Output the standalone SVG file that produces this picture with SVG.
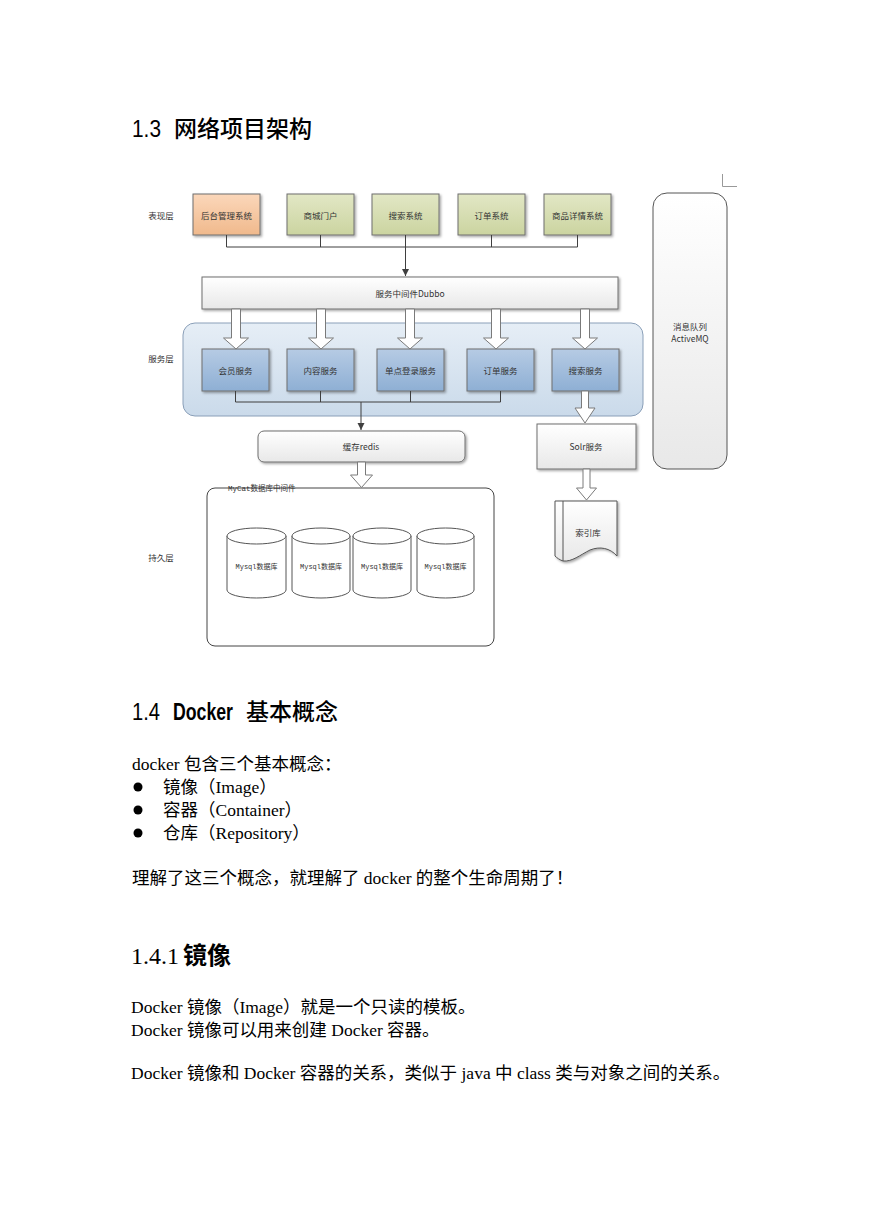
<svg xmlns="http://www.w3.org/2000/svg" width="869" height="1228" viewBox="0 0 869 1228">
<defs>
  <linearGradient id="gPeach" x1="0" y1="0" x2="0" y2="1"><stop offset="0" stop-color="#fbd7ba"/><stop offset="1" stop-color="#f0b98c"/></linearGradient>
  <linearGradient id="gGreen" x1="0" y1="0" x2="0" y2="1"><stop offset="0" stop-color="#e2e7c5"/><stop offset="1" stop-color="#cbd4a0"/></linearGradient>
  <linearGradient id="gBlue" x1="0" y1="0" x2="0" y2="1"><stop offset="0" stop-color="#b6cbe4"/><stop offset="1" stop-color="#8eafd4"/></linearGradient>
  <linearGradient id="gLayer" x1="0" y1="0" x2="0" y2="1"><stop offset="0" stop-color="#e6eef6"/><stop offset="1" stop-color="#cadaea"/></linearGradient>
  <linearGradient id="gWhite" x1="0" y1="0" x2="0" y2="1"><stop offset="0" stop-color="#ffffff"/><stop offset="1" stop-color="#e8e8e8"/></linearGradient>
  <filter id="sh" x="-10%" y="-10%" width="130%" height="140%"><feDropShadow dx="1.5" dy="1.5" stdDeviation="0.8" flood-color="#000" flood-opacity="0.35"/></filter>
  <marker id="arr" markerWidth="8" markerHeight="8" refX="7" refY="4" orient="auto" markerUnits="userSpaceOnUse"><path d="M0,0.5 L7,4 L0,7.5 Z" fill="#3f3f3f"/></marker>
  <path id="bigArrow" d="M-4.5,0 H4.5 V29 H12.5 L0,40 L-12.5,29 H-4.5 Z"/>
</defs>
<style>
  .lbl{font-family:"Noto Sans CJK SC",sans-serif;font-size:8.5px;fill:#333;text-anchor:middle;dominant-baseline:central}
  .box{stroke:#6f6f6f;stroke-width:1}
  .conn{fill:none;stroke:#3f3f3f;stroke-width:1}
  .hollow{fill:#fff;stroke:#7a7a7a;stroke-width:1}
  .body{font-family:"Liberation Serif","Noto Sans CJK SC",serif;font-size:17.5px;fill:#000}
  .h2cjk{font-family:"Noto Sans CJK SC",sans-serif;font-size:23px;font-weight:500;fill:#000}
  .h2num{font-family:"Liberation Sans",sans-serif;font-size:23px;fill:#000}
  .db{font-family:"Liberation Mono","Noto Sans CJK SC",monospace;font-size:7px;fill:#333;text-anchor:middle;dominant-baseline:central}
</style>

<!-- headings -->
<g id="heading13">
  <text class="h2num" x="132" y="137" textLength="29" lengthAdjust="spacingAndGlyphs">1.3</text>
  <text class="h2cjk" x="174" y="137">网络项目架构</text>
</g>
<path d="M722.5,174 V186.5 H737" fill="none" stroke="#999" stroke-width="1"/>

<!-- layer labels -->
<g id="layerLabels">
  <text class="lbl" x="161" y="215">表现层</text>
  <text class="lbl" x="161" y="358">服务层</text>
  <text class="lbl" x="161" y="557">持久层</text>
</g>

<!-- presentation layer -->
<g id="n-houtai"><rect class="box" x="193" y="194" width="67" height="41" fill="url(#gPeach)" filter="url(#sh)"/><text class="lbl" x="226.5" y="215">后台管理系统</text></g>
<g id="n-shangcheng"><rect class="box" x="287" y="194" width="67" height="41" fill="url(#gGreen)" filter="url(#sh)"/><text class="lbl" x="320.5" y="215">商城门户</text></g>
<g id="n-sousuo"><rect class="box" x="372" y="194" width="67" height="41" fill="url(#gGreen)" filter="url(#sh)"/><text class="lbl" x="405.5" y="215">搜索系统</text></g>
<g id="n-dingdan"><rect class="box" x="458" y="194" width="67" height="41" fill="url(#gGreen)" filter="url(#sh)"/><text class="lbl" x="491.5" y="215">订单系统</text></g>
<g id="n-xiangqing"><rect class="box" x="544" y="194" width="67" height="41" fill="url(#gGreen)" filter="url(#sh)"/><text class="lbl" x="577.5" y="215">商品详情系统</text></g>

<!-- dubbo -->
<g id="n-dubbo"><rect class="box" x="202" y="277" width="416" height="32" fill="url(#gWhite)" filter="url(#sh)"/><text class="lbl" x="410" y="293">服务中间件Dubbo</text></g>

<!-- message queue -->
<g id="n-mq"><rect x="653" y="193" width="74" height="276" rx="14" fill="url(#gWhite)" stroke="#555" stroke-width="1"/>
  <text class="lbl" x="690" y="326">消息队列</text><text class="lbl" x="690" y="338">ActiveMQ</text></g>

<!-- service layer -->
<g id="n-servicelayer"><rect x="183" y="323" width="460" height="93" rx="12" fill="url(#gLayer)" stroke="#8a9fb8" stroke-width="1"/></g>
<g id="n-huiyuan"><rect class="box" x="202" y="349" width="67" height="42" fill="url(#gBlue)" filter="url(#sh)"/><text class="lbl" x="235.5" y="370">会员服务</text></g>
<g id="n-neirong"><rect class="box" x="287" y="349" width="67" height="42" fill="url(#gBlue)" filter="url(#sh)"/><text class="lbl" x="320.5" y="370">内容服务</text></g>
<g id="n-sso"><rect class="box" x="377" y="349" width="67" height="42" fill="url(#gBlue)" filter="url(#sh)"/><text class="lbl" x="410.5" y="370">单点登录服务</text></g>
<g id="n-order"><rect class="box" x="467" y="349" width="67" height="42" fill="url(#gBlue)" filter="url(#sh)"/><text class="lbl" x="500.5" y="370">订单服务</text></g>
<g id="n-search"><rect class="box" x="552" y="349" width="67" height="42" fill="url(#gBlue)" filter="url(#sh)"/><text class="lbl" x="585.5" y="370">搜索服务</text></g>

<!-- redis -->
<g id="n-redis"><rect class="box" x="258" y="431" width="207" height="31" rx="6" fill="url(#gWhite)" filter="url(#sh)"/><text class="lbl" x="361" y="446">缓存redis</text></g>

<!-- solr -->
<g id="n-solr"><rect class="box" x="537" y="424" width="99" height="45" fill="url(#gWhite)" filter="url(#sh)"/><text class="lbl" x="586" y="446">Solr服务</text></g>

<!-- index doc -->
<g id="n-index">
  <path d="M555,501 H617 V556 C610,548 600,546 590,550 C580,555 572,562 563,561 C560,560 557,558 555,556 Z" fill="url(#gWhite)" stroke="#555" stroke-width="1" filter="url(#sh)"/>
  <path d="M563,501 V561" stroke="#555" stroke-width="1" fill="none"/>
  <text class="lbl" x="588" y="532">索引库</text>
</g>

<!-- mycat -->
<g id="n-mycat">
  <rect x="207" y="488" width="287" height="158" rx="8" fill="none" stroke="#444" stroke-width="1"/>
  <text x="228" y="489" font-family="Liberation Mono, Noto Sans CJK SC, monospace" font-size="7.5" fill="#333" dominant-baseline="central">MyCat数据库中间件</text>
</g>
<g id="n-db1"><path d="M227,536 V590 A29.5,8 0 0 0 286,590 V536" fill="#fff" stroke="#555"/><ellipse cx="256.5" cy="536" rx="29.5" ry="8" fill="#fff" stroke="#555"/><text class="db" x="256.5" y="567">Mysql数据库</text></g>
<g id="n-db2"><path d="M292,536 V590 A29,8 0 0 0 350,590 V536" fill="#fff" stroke="#555"/><ellipse cx="321" cy="536" rx="29" ry="8" fill="#fff" stroke="#555"/><text class="db" x="321" y="567">Mysql数据库</text></g>
<g id="n-db3"><path d="M353,536 V590 A29,8 0 0 0 411,590 V536" fill="#fff" stroke="#555"/><ellipse cx="382" cy="536" rx="29" ry="8" fill="#fff" stroke="#555"/><text class="db" x="382" y="567">Mysql数据库</text></g>
<g id="n-db4"><path d="M417,536 V590 A28.5,8 0 0 0 474,590 V536" fill="#fff" stroke="#555"/><ellipse cx="445.5" cy="536" rx="28.5" ry="8" fill="#fff" stroke="#555"/><text class="db" x="445.5" y="567">Mysql数据库</text></g>

<!-- connectors -->
<g id="connectors">
  <path class="conn" d="M226.5,235 V247 M320.5,235 V247 M405.5,235 V247 M491.5,235 V247 M577.5,235 V247 M226.5,247 H577.5"/>
  <path class="conn" d="M405.5,247 V276" marker-end="url(#arr)"/>
  <path class="conn" d="M235.5,391 V402 M320.5,391 V402 M410.5,391 V402 M500.5,391 V402 M235.5,402 H500.5"/>
  <path class="conn" d="M361,402 V430" marker-end="url(#arr)"/>
  <use href="#bigArrow" class="hollow" transform="translate(236,309)"/>
  <use href="#bigArrow" class="hollow" transform="translate(321,309)"/>
  <use href="#bigArrow" class="hollow" transform="translate(410,309)"/>
  <use href="#bigArrow" class="hollow" transform="translate(496,309)"/>
  <use href="#bigArrow" class="hollow" transform="translate(585,309)"/>
  <path class="hollow" d="M581.5,391 H588.5 V408 H595 L585,423 L575,408 H581.5 Z"/>
  <path class="hollow" d="M583,469 H590 V488 H596.5 L586.5,500 L576.5,488 H583 Z"/>
  <path class="hollow" d="M357.5,462 H365.5 V475 H372.5 L361.5,487.5 L350.5,475 H357.5 Z"/>
</g>

<!-- section 1.4 -->
<g id="heading14">
  <text class="h2num" x="132" y="720" textLength="28" lengthAdjust="spacingAndGlyphs">1.4</text>
  <text x="173" y="720" font-family="Liberation Sans, sans-serif" font-size="23" font-weight="bold" textLength="60" lengthAdjust="spacingAndGlyphs">Docker</text>
  <text class="h2cjk" x="246" y="720">基本概念</text>
</g>
<g id="text14">
  <text class="body" x="132" y="770">docker 包含三个基本概念：</text>
  <circle cx="138" cy="787" r="4.5" fill="#000"/>
  <circle cx="138" cy="810" r="4.5" fill="#000"/>
  <circle cx="138" cy="833" r="4.5" fill="#000"/>
  <text class="body" x="163" y="793">镜像（Image）</text>
  <text class="body" x="163" y="816">容器（Container）</text>
  <text class="body" x="163" y="839">仓库（Repository）</text>
  <text class="body" x="132" y="884">理解了这三个概念，就理解了 docker 的整个生命周期了！</text>
</g>

<!-- section 1.4.1 -->
<g id="heading141">
  <text x="131" y="964" font-family="Liberation Serif, serif" font-size="24" fill="#000">1.4.1</text>
  <text x="183" y="964" font-family="Noto Sans CJK SC, sans-serif" font-size="24" font-weight="bold" fill="#000">镜像</text>
</g>
<g id="text141">
  <text class="body" x="131" y="1013">Docker 镜像（Image）就是一个只读的模板。</text>
  <text class="body" x="131" y="1036">Docker 镜像可以用来创建 Docker 容器。</text>
  <text class="body" x="131" y="1079">Docker 镜像和 Docker 容器的关系，类似于 java 中 class 类与对象之间的关系。</text>
</g>
</svg>
